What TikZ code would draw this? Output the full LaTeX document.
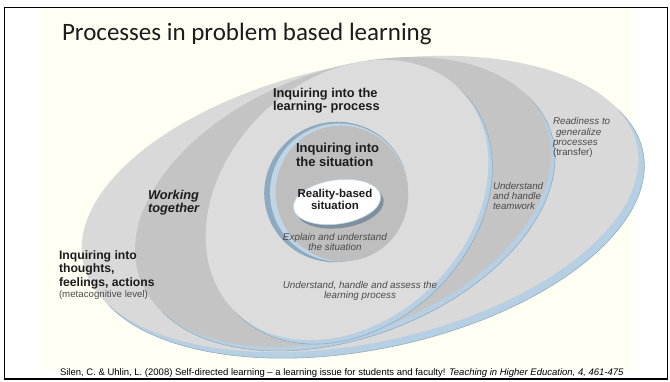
\documentclass[tikz,border=0pt]{standalone}
\usepackage{fontspec}
\setmainfont{Liberation Sans}
\newfontfamily\titlefont{Carlito}
\definecolor{cream}{HTML}{FFFFF3}
\definecolor{faceouter}{HTML}{D9D9D9}
\definecolor{facemid}{HTML}{C4C4C4}
\definecolor{faceinner}{HTML}{DCDCDC}
\definecolor{sitgray}{HTML}{BEBEBE}
\definecolor{rimblue}{HTML}{B6CFE2}
\definecolor{rimedge}{HTML}{8FADC4}
\definecolor{ringdark}{HTML}{8EAAC0}
\definecolor{ringlight}{HTML}{BFD5E5}
\definecolor{shadowblue}{HTML}{7E909E}
\definecolor{txtdark}{HTML}{1C1C1C}
\definecolor{txtgray}{HTML}{4A4A4A}
\newcommand{\fsz}[2]{\fontsize{#1}{#2}\selectfont}
\newcommand{\stk}[2]{\begin{tabular}[t]{@{}#1@{}}#2\end{tabular}}
\begin{document}
\begin{tikzpicture}[x=1pt,y=1pt,
  rim/.style={fill=rimblue, draw=rimedge, line width=0.6pt},
  lbl/.style={inner sep=0pt, outer sep=0pt, text=txtdark},
  note/.style={inner sep=0pt, outer sep=0pt, text=txtgray}]
\useasboundingbox (0,0) rectangle (670,381);
\fill[white] (0,0) rectangle (670,381);
\fill[cream] (42,11) rectangle (633,373);
\draw[black, line width=1.8pt] (4.5,2.3) rectangle (667.5,373.5);

% outer disc
\filldraw[rim] (366,171) circle [x radius=283, y radius=139, rotate=12];
\fill[faceouter] (360,177) circle [x radius=283, y radius=139, rotate=12];
% middle disc
\filldraw[rim] (347,175) circle [x radius=217, y radius=131, rotate=21];
\fill[facemid] (343,179) circle [x radius=217, y radius=131, rotate=21];
% inner disc
\filldraw[rim] (351,177) circle [x radius=158, y radius=121, rotate=44];
\fill[faceinner] (347,181) circle [x radius=158, y radius=121, rotate=44];
% situation disc (recessed)
\fill[ringdark] (336,189) circle [x radius=72, y radius=70, rotate=20];
\fill[ringlight] (339,188.5) circle [x radius=69, y radius=69, rotate=20];
\fill[sitgray] (342,187.5) circle [x radius=66, y radius=68, rotate=20];
% reality-based disc
\fill[shadowblue] (340,175) circle [x radius=44, y radius=22, rotate=8];
\filldraw[fill=white, draw=ringlight, line width=0.6pt] (337,179) circle [x radius=44, y radius=22, rotate=8];

% texts
\node[lbl, anchor=base west] (title) at (62,340.5) {\titlefont\fsz{25}{30}Processes in problem based learning};
\node[lbl, anchor=base west, font=\bfseries\fsz{12.8}{13}] (learnproc) at (273,283.3)
  {\stk{l}{Inquiring into the\\learning- process}};
\node[lbl, anchor=base west, font=\bfseries\fsz{13}{13}] (situation) at (296,228)
  {\stk{l}{Inquiring into\\the situation}};
\node[lbl, anchor=base, font=\bfseries\fsz{11.5}{12}] (reality) at (335,183)
  {\stk{c}{Reality-based\\situation}};
\node[note, anchor=base, font=\itshape\fsz{9.9}{10.5}] (explain) at (335,141)
  {\stk{c}{Explain and understand\\the situation}};
\node[lbl, anchor=base west, font=\bfseries\itshape\fsz{12.8}{13}] (working) at (148,182)
  {\stk{l}{Working\\together}};
\node[lbl, anchor=base west, font=\bfseries\fsz{12.2}{13.5}] (thoughts) at (59,122)
  {\stk{l}{Inquiring into\\thoughts,\\feelings, actions}};
\node[note, anchor=base west, font=\fsz{9.7}{11}] (meta) at (59,84) {(metacognitive level)};
\node[note, anchor=base, font=\itshape\fsz{9.8}{10}] (assess) at (360,93)
  {\stk{c}{Understand, handle and assess the\\learning process}};
\node[note, anchor=base west, font=\itshape\fsz{9.7}{10}] (teamwork) at (493,192)
  {\stk{l}{Understand\\and handle\\teamwork}};
\node[note, anchor=base west, font=\itshape\fsz{9.8}{10}] (readiness) at (553,256)
  {\stk{l}{Readiness to\\\hspace{3pt}generalize\\processes\\\upshape(transfer)}};
\node[lbl, anchor=base west, text=black, font=\fsz{9.5}{10}] (footer) at (60,5.5)
  {Silen, C. \& Uhlin, L. (2008) Self-directed learning -- a learning issue for students and faculty! \textit{Teaching in Higher Education, 4, 461-475}};
\end{tikzpicture}
\end{document}
